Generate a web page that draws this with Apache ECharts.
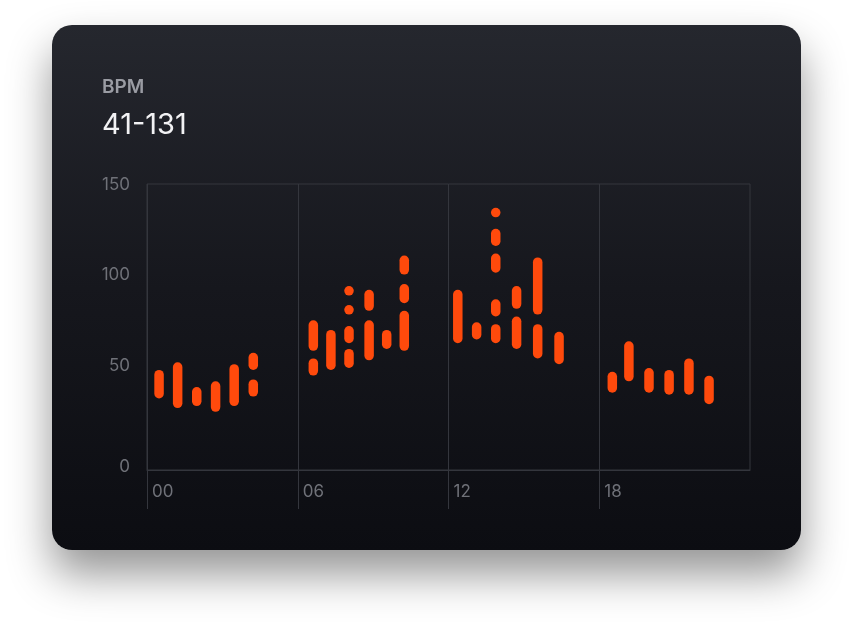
<!DOCTYPE html>
<html>
<head>
<meta charset="utf-8">
<script src="https://cdn.jsdelivr.net/npm/echarts@6/dist/echarts.min.js"></script>
<style>
  html, body { margin: 0; padding: 0; background: #ffffff; width: 851px; height: 626px; overflow: hidden; }
  #card {
    position: absolute; left: 52px; top: 25px; width: 749px; height: 525px;
    border-radius: 20px;
    background: linear-gradient(180deg, #25272e 0%, #16171d 50%, #0c0d12 100%);
    box-shadow: 0 24px 44px rgba(0,0,0,0.42);
  }
  #chart { position: absolute; left: 0; top: 0; width: 851px; height: 626px; }
</style>
</head>
<body>
<div id="card"></div>
<div id="chart"></div>
<script>
// Title texts
const titleLabel = 'BPM';
const titleRange = '41-131';

// Axis ticks
const yTicks = [0, 50, 100, 150];
const xTickHours = [0, 6, 12, 18];
const xTickLabels = ['00', '06', '12', '18'];

// Hour positions of each reading column
const slotHours = [
  0.48, 1.22, 1.98, 2.73, 3.47, 4.23,
  6.62, 7.32, 8.04, 8.84, 9.54, 10.24,
  12.37, 13.12, 13.88, 14.71, 15.55, 16.40,
  18.52, 19.18, 19.98, 20.78, 21.57, 22.37
];

// BPM ranges per column: list of [low, high] segments (low == high is a single reading)
const slotRanges = [
  [[40, 50]],
  [[35, 54]],
  [[36, 41]],
  [[33, 44]],
  [[36, 53]],
  [[41, 45], [55, 59]],

  [[52, 56], [65, 76]],
  [[55, 71]],
  [[56, 61], [69, 73], [84, 84], [94, 94]],
  [[60, 76], [86, 92]],
  [[66, 71]],
  [[65, 81], [90, 95], [105, 110]],

  [[69, 92]],
  [[71, 75]],
  [[69, 74], [83, 87], [106, 111], [120, 124], [135, 135]],
  [[66, 78], [87, 94]],
  [[61, 74], [84, 109]],
  [[58, 70]],

  [[43, 49]],
  [[49, 65]],
  [[43, 51]],
  [[42, 50]],
  [[42, 56]],
  [[37, 47]]
];

const segData = [];
slotHours.forEach(function (h, i) {
  slotRanges[i].forEach(function (r) { segData.push([h, r[0], r[1]]); });
});

const BAR_W = 9.5;
const gridColor = '#34363d';
const labelColor = '#6f7178';
const yLabelStyle = { color: labelColor, fontSize: 17, fontFamily: 'Inter' };

const chart = echarts.init(document.getElementById('chart'), null, { renderer: 'canvas' });
chart.setOption({
  backgroundColor: 'transparent',
  animation: false,
  title: [
    {
      text: titleLabel, left: 97, top: 73,
      textStyle: { color: '#9a9ca3', fontSize: 19, fontWeight: 600, fontFamily: 'Inter' }
    },
    {
      text: titleRange, left: 97, top: 106,
      textStyle: { color: '#f2f2f4', fontSize: 29, fontWeight: 400, fontFamily: 'Inter' }
    }
  ],
  grid: {
    left: 147, right: 101, top: 184, bottom: 156,
    show: true, borderColor: gridColor, borderWidth: 1, backgroundColor: 'transparent'
  },
  xAxis: {
    type: 'value', min: 0, max: 24, interval: 6,
    axisLine: { show: true, lineStyle: { color: gridColor } },
    axisTick: { show: true, customValues: xTickHours, length: 39, lineStyle: { color: gridColor } },
    splitLine: { show: true, lineStyle: { color: gridColor } },
    axisLabel: {
      customValues: xTickHours,
      formatter: function (v) { const i = xTickHours.indexOf(v); return i >= 0 ? xTickLabels[i] : ''; },
      color: labelColor, fontSize: 17, fontFamily: 'Inter', align: 'left', padding: [0, 0, 0, 5], margin: 13
    }
  },
  yAxis: {
    type: 'value', min: 0, max: 150, interval: 50,
    axisLine: { show: false }, axisTick: { show: false },
    splitLine: { show: false },
    axisLabel: {
      customValues: yTicks,
      margin: 17,
      formatter: function (v) { return '{y' + v + '|' + v + '}'; },
      rich: {
        y0: Object.assign({ padding: [0, 0, 6, 0] }, yLabelStyle),
        y50: Object.assign({ padding: [0, 0, 17, 0] }, yLabelStyle),
        y100: Object.assign({ padding: [0, 0, 8, 0] }, yLabelStyle),
        y150: Object.assign({ padding: [1, 0, 0, 0] }, yLabelStyle)
      }
    }
  },
  series: [{
    type: 'custom',
    data: segData,
    encode: { x: 0, y: [1, 2] },
    renderItem: function (params, api) {
      const x = api.value(0);
      const top = api.coord([x, api.value(2)]);
      const bot = api.coord([x, api.value(1)]);
      return {
        type: 'rect',
        shape: {
          x: top[0] - BAR_W / 2, y: top[1] - BAR_W / 2,
          width: BAR_W, height: (bot[1] - top[1]) + BAR_W, r: BAR_W / 2
        },
        style: { fill: '#ff4a0c' }
      };
    }
  }]
});
</script>
</body>
</html>
